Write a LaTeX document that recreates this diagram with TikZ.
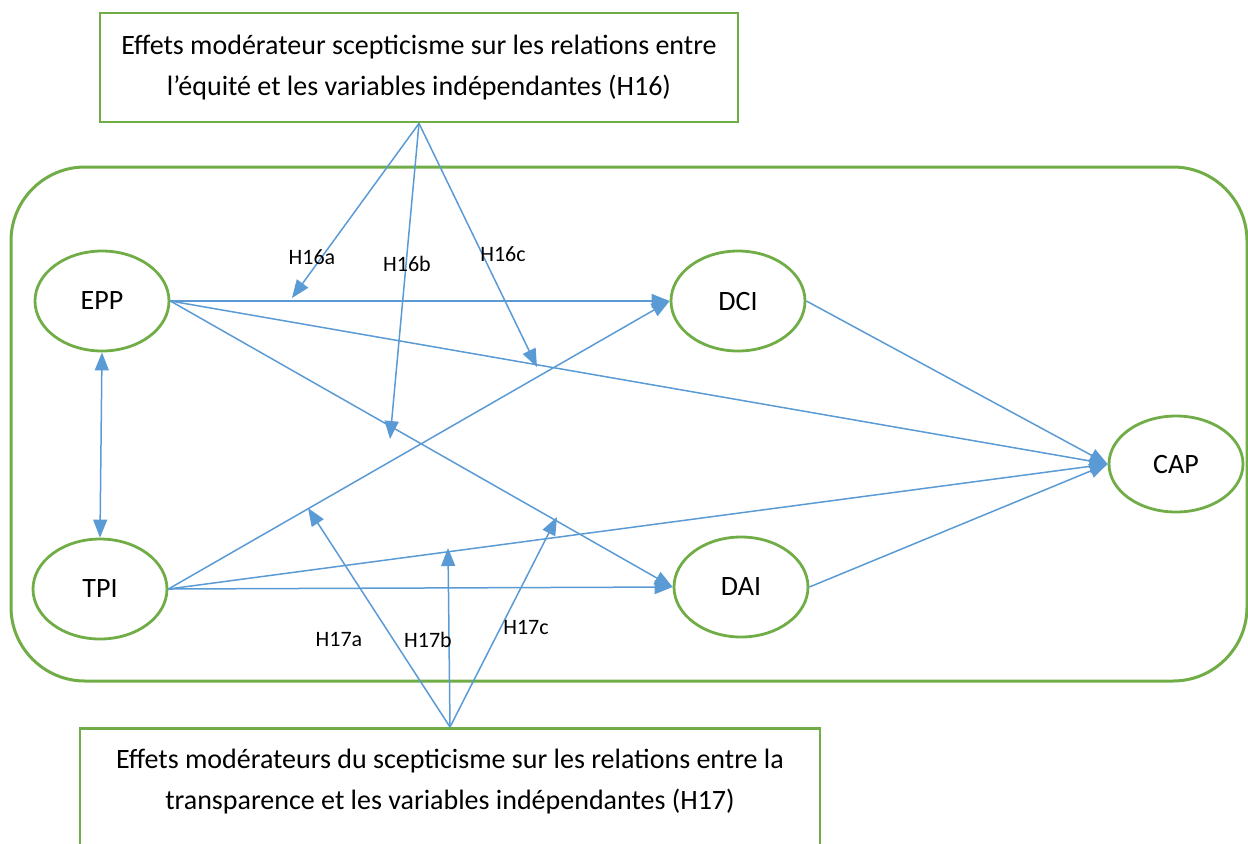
\documentclass[tikz,border=0pt]{standalone}
\usepackage{fontspec}
\setmainfont{Carlito}
\usetikzlibrary{arrows.meta,shapes.geometric}
\definecolor{frame}{HTML}{70AD47}
\definecolor{link}{HTML}{5B9BD5}

\begin{document}
\begin{tikzpicture}[x=0.5pt,y=-0.5pt,
  construct/.style={ellipse, draw=frame, line width=1.4pt, fill=white,
    minimum width=67pt, minimum height=50pt, inner sep=0pt,
    font=\fontsize{14}{17}\selectfont},
  modbox/.style={rectangle, draw=frame, line width=1.4pt, inner sep=0pt},
  boxtext/.style={align=center, inner sep=0pt,
    font=\fontsize{14}{20.5}\selectfont},
  hyp/.style={inner sep=0pt, font=\fontsize{11}{13}\selectfont},
  path/.style={draw=link, line width=0.75pt,
    -{Triangle[length=9pt,width=7pt]}, fill=link},
  both/.style={draw=link, line width=0.75pt,
    {Triangle[length=9pt,width=7pt]}-{Triangle[length=9pt,width=7pt]}},
]
\useasboundingbox (0,0) rectangle (1248,843);
\clip (0,0) rectangle (1248,843);

% model frame
\draw[frame, line width=1.5pt, rounded corners=37pt] (11,167) rectangle (1247,681);

% moderator boxes
\node (h16) [modbox, minimum width=319pt, minimum height=54.5pt, boxtext]
  at (419,67.5)
  {Effets modérateur scepticisme sur les relations entre\\
   l’équité et les variables indépendantes (H16)};
\node (h17) [modbox, minimum width=370pt, minimum height=70pt, anchor=north]
  at (450,727) {};
\node (h17txt) [boxtext] at (450,782)
  {Effets modérateurs du scepticisme sur les relations entre la\\
   transparence et les variables indépendantes (H17)};

% constructs
\node (EPP) [construct] at (102,301) {EPP};
\node (TPI) [construct] at (100,589) {TPI};
\node (DCI) [construct] at (738,301) {DCI};
\node (DAI) [construct] at (741,587) {DAI};
\node (CAP) [construct, minimum height=48pt] at (1176,464) {CAP};

% direct paths
\draw[path] (EPP.east) -- (DCI.west);
\draw[path] (EPP.east) -- (CAP.west);
\draw[path] (EPP.east) -- (DAI.west);
\draw[path] (TPI.east) -- (DCI.west);
\draw[path] (TPI.east) -- (DAI.west);
\draw[path] (TPI.east) -- (CAP.west);
\draw[path] (DCI.east) -- (CAP.west);
\draw[path] (DAI.east) -- (CAP.west);
\draw[both] (EPP.south) -- (TPI.north);

% moderation targets
\coordinate (m16a) at (292,298);
\coordinate (m16b) at (390,439);
\coordinate (m16c) at (537,367);
\coordinate (m17a) at (308,508);
\coordinate (m17b) at (448,548);
\coordinate (m17c) at (557,517);

\draw[path] (h16.south) -- (m16a);
\draw[path] (h16.south) -- (m16b);
\draw[path] (h16.south) -- (m16c);
\draw[path] (h17.north) -- (m17a);
\draw[path] (h17.north) -- (m17b);
\draw[path] (h17.north) -- (m17c);

% hypothesis labels
\node (l16a) [hyp] at (312,257) {H16a};
\node (l16b) [hyp] at (407,264) {H16b};
\node (l16c) [hyp] at (503,254) {H16c};
\node (l17a) [hyp] at (339,639) {H17a};
\node (l17b) [hyp] at (428,640) {H17b};
\node (l17c) [hyp] at (526,627) {H17c};
\end{tikzpicture}
\end{document}
